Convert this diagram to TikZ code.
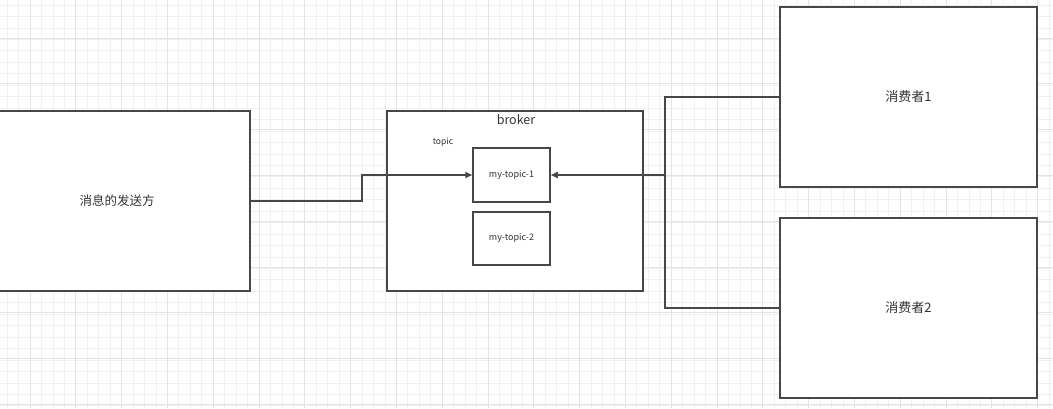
\documentclass[tikz,border=0pt]{standalone}
\usepackage{fontspec}
\setmainfont{Noto Sans CJK SC}
\usetikzlibrary{arrows.meta}
\definecolor{minorgrid}{HTML}{F1F1F1}
\definecolor{majorgrid}{HTML}{E4E4E4}
\definecolor{boxline}{HTML}{474747}
\definecolor{txt}{HTML}{333333}
\tikzset{
  box/.style={draw=boxline, line width=1.5pt, fill=white, inner sep=0pt, text=txt},
  wire/.style={draw=boxline, line width=1.5pt},
  arr/.style={wire, -{Triangle[length=7pt,width=6pt]}},
  lbl/.style={text=txt, inner sep=0pt}
}
\begin{document}
\begin{tikzpicture}[x=1pt,y=-1pt]
\useasboundingbox (0,0) rectangle (1053,408);
\clip (0,0) rectangle (1053,408);
\fill[white] (0,0) rectangle (1053,408);
% grid
\foreach \i in {0,...,92} {
  \draw[minorgrid, line width=0.8pt] ({7.1+11.45*\i},0) -- ({7.1+11.45*\i},408);
}
\foreach \i in {0,...,36} {
  \draw[minorgrid, line width=0.8pt] (0,{5.05+11.45*\i}) -- (1053,{5.05+11.45*\i});
}
\foreach \i in {0,...,23} {
  \draw[majorgrid, line width=0.9pt] ({30+45.8*\i},0) -- ({30+45.8*\i},408);
}
\foreach \i in {0,...,9} {
  \draw[majorgrid, line width=0.9pt] (0,{38+45.8*\i}) -- (1053,{38+45.8*\i});
}
% boxes
\node[box, minimum width=266pt, minimum height=180pt, font=\fontsize{12.5}{14}\selectfont] (sender) at (117,201) {消息的发送方};
\node[box, minimum width=256pt, minimum height=180pt] (broker) at (515,201) {};
\node[lbl, font=\fontsize{12.5}{14}\selectfont] (brokerlbl) at (516,120) {broker};
\node[lbl, font=\fontsize{8.5}{10}\selectfont] (topiclbl) at (443,142) {topic};
\node[box, minimum width=77pt, minimum height=54pt, font=\fontsize{9}{10}\selectfont] (t1) at (511.5,175) {my-topic-1};
\node[box, minimum width=77pt, minimum height=53pt, font=\fontsize{9}{10}\selectfont] (t2) at (511.5,238.5) {my-topic-2};
\node[box, minimum width=257pt, minimum height=180pt, font=\fontsize{13}{15}\selectfont] (c1) at (908.5,97) {消费者1};
\node[box, minimum width=257pt, minimum height=180pt, font=\fontsize{13}{15}\selectfont] (c2) at (908.5,308) {消费者2};
% connectors
\coordinate (j1) at (362,201);
\coordinate (bus) at (665,175);
\draw[arr] (sender.east) -- (j1) |- (t1.west);
\draw[wire] (c1.west) -| (bus);
\draw[wire] (c2.west) -| (bus);
\draw[arr] (bus) -- (t1.east);
\end{tikzpicture}
\end{document}
